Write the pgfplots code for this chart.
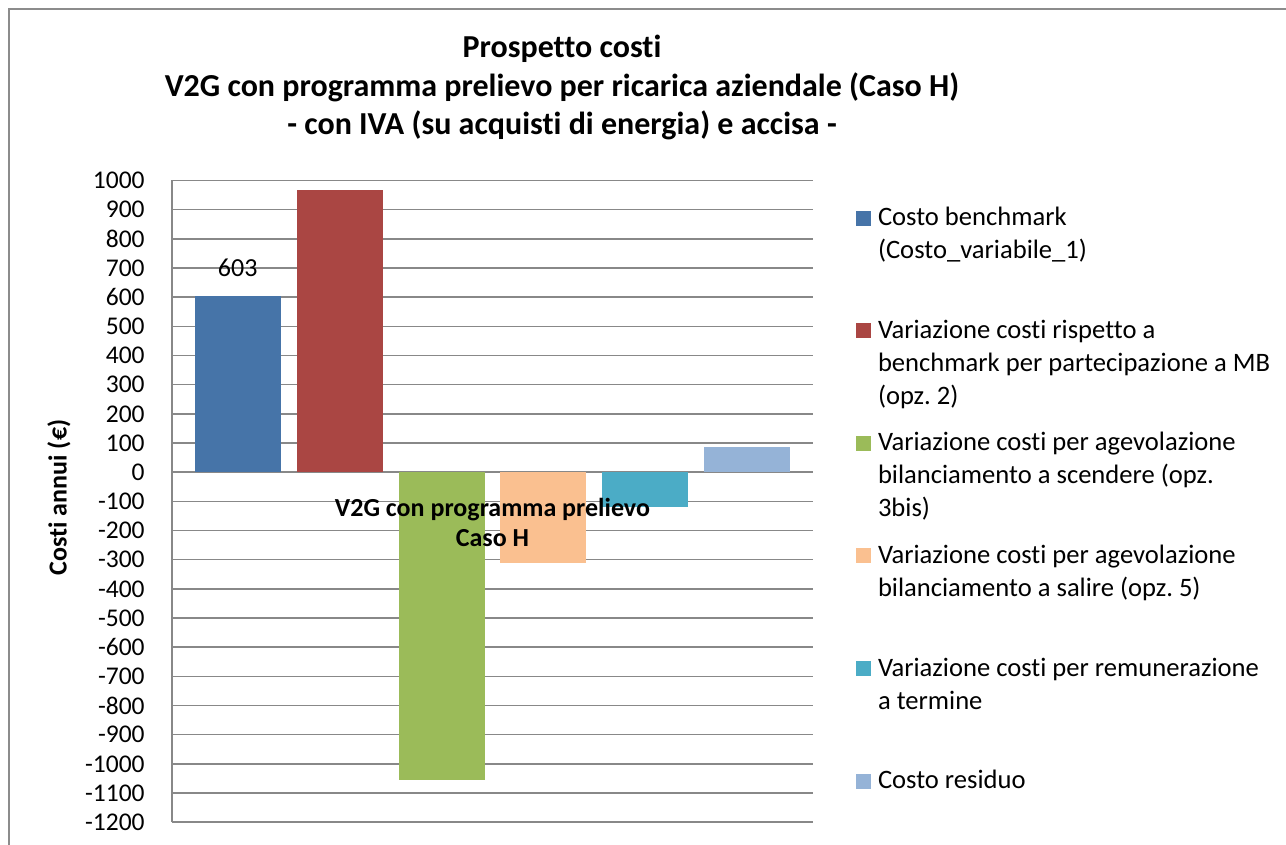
\documentclass[border=0pt]{standalone}
\usepackage{fontspec}
\setmainfont{Carlito}[Ligatures={NoCommon,NoContextual,NoRequired}]
\usepackage{pgfplots}
\pgfplotsset{compat=1.18}
\definecolor{cBlue}{HTML}{4674A8}
\definecolor{cRed}{HTML}{AA4643}
\definecolor{cGreen}{HTML}{9BBB59}
\definecolor{cOrange}{HTML}{FAC090}
\definecolor{cTeal}{HTML}{4BACC6}
\definecolor{cLight}{HTML}{95B3D7}
\definecolor{gridGray}{HTML}{888888}
\definecolor{frameGray}{HTML}{8C8C8C}
\newcommand{\LE}[1]{\parbox[t]{220pt}{\frenchspacing\strut #1}}
\frenchspacing
\begin{document}
\begin{tikzpicture}[x=1pt,y=1pt]
\useasboundingbox (0,0) rectangle (643,422.5);
\draw[color=frameGray, line width=1pt] (4.65,-2) -- (4.65,417.75) -- (646,417.75);
\node[font=\bfseries\fontsize{16}{19}\selectfont, anchor=base] at (281,393.5) {Prospetto costi};
\node[font=\bfseries\fontsize{16}{19}\selectfont, anchor=base] at (281,374) {V2G con programma prelievo per ricarica aziendale (Caso H)};
\node[font=\bfseries\fontsize{16}{19}\selectfont, anchor=base] at (281,355) {- con IVA (su acquisti di energia) e accisa -};
\begin{axis}[
  at={(86pt,11.4pt)}, anchor=south west,
  scale only axis, width=320.5pt, height=320.85pt,
  xmin=-0.645, xmax=5.645, ymin=-1200, ymax=1000,
  ytick={-1200,-1100,...,1000},
  axis x line=none, axis y line*=left,
  axis line style={-, draw=gridGray, line width=0.75pt},
  ymajorgrids, grid style={draw=gridGray, line width=0.75pt},
  major tick length=0pt,
  /pgf/number format/assume math mode=true,
  /pgf/number format/1000 sep={},
  yticklabel style={font=\fontsize{12.75}{15}\selectfont, anchor=east, inner sep=0pt, xshift=-13.5pt},
  ylabel={Costi annui (€)},
  every axis y label/.style={at={(axis description cs:-0.1763,0.506)}, rotate=90, anchor=center, font=\bfseries\fontsize{13}{16}\selectfont},
  legend style={at={(1.0671,0.9656)}, anchor=north west, draw=none, fill=none, inner sep=0pt, outer sep=0pt, row sep=0pt, column sep=3.5pt, cells={anchor=base west}, nodes={inner sep=0pt, text height=11.55pt, text depth=44.75pt}, font=\fontsize{13.3}{16.5}\selectfont},
  legend image code/.code={\fill[#1, draw=none] (0pt,0pt) rectangle (7.5pt,7.5pt);},
  clip=false,
]
\addplot[ybar, bar shift=0pt, bar width=0.844, fill=cBlue, draw=none,
  nodes near coords, every node near coord/.append style={font=\fontsize{13}{16}\selectfont, text=black, inner sep=0pt, anchor=base, yshift=9.65pt}]
  coordinates {(0,603)};
\addlegendentry{\LE{Costo benchmark\newline (Costo\_variabile\_1)}}
\addplot[ybar, bar shift=0pt, bar width=0.844, fill=cRed, draw=none] coordinates {(1,969)};
\addlegendentry{\LE{Variazione costi rispetto a\newline benchmark per partecipazione a MB\newline (opz. 2)}}
\addplot[ybar, bar shift=0pt, bar width=0.844, fill=cGreen, draw=none] coordinates {(2,-1056)};
\addlegendentry{\LE{Variazione costi per agevolazione\newline bilanciamento a scendere (opz.\newline 3bis)}}
\addplot[ybar, bar shift=0pt, bar width=0.844, fill=cOrange, draw=none] coordinates {(3,-312)};
\addlegendentry{\LE{Variazione costi per agevolazione\newline bilanciamento a salire (opz. 5)}}
\addplot[ybar, bar shift=0pt, bar width=0.844, fill=cTeal, draw=none] coordinates {(4,-120)};
\addlegendentry{\LE{Variazione costi per remunerazione\newline a termine}}
\addplot[ybar, bar shift=0pt, bar width=0.844, fill=cLight, draw=none] coordinates {(5,88)};
\addlegendentry{\LE{Costo residuo}}
\node[font=\bfseries\fontsize{13}{16}\selectfont, anchor=base, yshift=-22.15pt] at (axis cs:2.5,0) {V2G con programma prelievo};
\node[font=\bfseries\fontsize{13}{16}\selectfont, anchor=base, yshift=-37.15pt] at (axis cs:2.5,0) {Caso H};
\end{axis}
\end{tikzpicture}
\end{document}
